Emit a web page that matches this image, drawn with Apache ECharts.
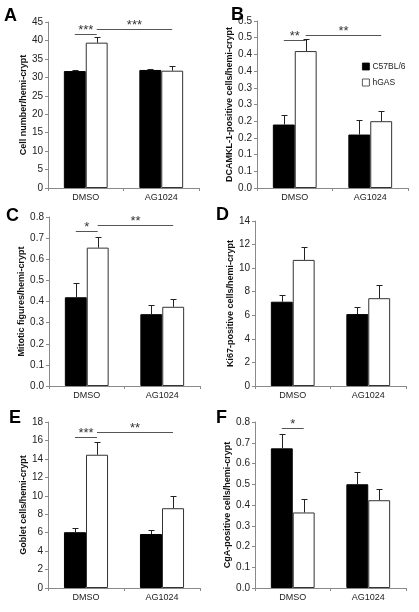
<!DOCTYPE html>
<html><head><meta charset="utf-8">
<script src="https://cdn.jsdelivr.net/npm/echarts@6/dist/echarts.min.js"></script>
<style>html,body{margin:0;padding:0;background:#fff}#c{width:419px;height:612px}</style>
</head><body><div id="c"></div>
<script>
// ---------- data ----------
const categories = ['DMSO', 'AG1024'];
const seriesNames = ['C57BL/6', 'hGAS'];

// Panel A
const aC57 = [31.7, 32.0];
const aHgas = [39.4, 31.8];
const aC57Err = [0.4, 0.3];
const aHgasErr = [1.4, 1.3];
const aTicks = ['0', '5', '10', '15', '20', '25', '30', '35', '40', '45'];
const aBrackets = [[0, 0, 0, 1, 41.8], [0, 1, 1, 1, 43.2]];
const aBracketLabels = ['***', '***'];

// Panel B
const bC57 = [0.19, 0.16];
const bHgas = [0.41, 0.20];
const bC57Err = [0.03, 0.045];
const bHgasErr = [0.035, 0.032];
const bTicks = ['0.0', '0.1', '0.1', '0.2', '0.2', '0.3', '0.3', '0.4', '0.4', '0.5', '0.5'];
const bBrackets = [[0, 0, 0, 1, 0.443], [0, 1, 1, 1, 0.458]];
const bBracketLabels = ['**', '**'];

// Panel C
const cC57 = [0.42, 0.34];
const cHgas = [0.655, 0.375];
const cC57Err = [0.066, 0.044];
const cHgasErr = [0.05, 0.035];
const cTicks = ['0.0', '0.1', '0.2', '0.3', '0.4', '0.5', '0.6', '0.7', '0.8'];
const cBrackets = [[0, 0, 0, 1, 0.732], [0, 1, 1, 1, 0.763]];
const cBracketLabels = ['*', '**'];

// Panel D
const dC57 = [7.15, 6.1];
const dHgas = [10.7, 7.45];
const dC57Err = [0.6, 0.63];
const dHgasErr = [1.1, 1.13];
const dTicks = ['0', '2', '4', '6', '8', '10', '12', '14'];
const dBrackets = [];
const dBracketLabels = [];

// Panel E
const eC57 = [6.05, 5.85];
const eHgas = [14.45, 8.65];
const eC57Err = [0.5, 0.47];
const eHgasErr = [1.38, 1.33];
const eTicks = ['0', '2', '4', '6', '8', '10', '12', '14', '16', '18'];
const eBrackets = [[0, 0, 0, 1, 16.36], [0, 1, 1, 1, 16.87]];
const eBracketLabels = ['***', '**'];

// Panel F
const fC57 = [0.673, 0.50];
const fHgas = [0.364, 0.423];
const fC57Err = [0.068, 0.061];
const fHgasErr = [0.064, 0.052];
const fTicks = ['0.0', '0.1', '0.2', '0.3', '0.4', '0.5', '0.6', '0.7', '0.8'];
const fBrackets = [[0, 0, 0, 1, 0.771]];
const fBracketLabels = ['*'];

// ---------- layout / style ----------
const FONT = 'Liberation Sans';
const GAP = 0.42;
const AXIS_COLOR = '#8a8a8a';
const panels = [
  { letter: 'A', name: 'Cell number/hemi-crypt', c57: aC57, hgas: aHgas, c57e: aC57Err, hgase: aHgasErr, ticks: aTicks, step: 5, br: aBrackets, brl: aBracketLabels,
    grid: { left: 48, top: 22, width: 151, height: 166 }, title: { left: 4, top: 7 }, nameGap: 20 },
  { letter: 'B', name: 'DCAMKL-1-positive cells/hemi-crypt', c57: bC57, hgas: bHgas, c57e: bC57Err, hgase: bHgasErr, ticks: bTicks, step: 0.05, br: bBrackets, brl: bBracketLabels,
    grid: { left: 257, top: 21, width: 151, height: 167 }, title: { left: 231, top: 6 }, nameGap: 21 },
  { letter: 'C', name: 'Mitotic figures/hemi-crypt', c57: cC57, hgas: cHgas, c57e: cC57Err, hgase: cHgasErr, ticks: cTicks, step: 0.1, br: cBrackets, brl: cBracketLabels,
    grid: { left: 49, top: 217, width: 151, height: 169 }, title: { left: 6, top: 207 }, nameGap: 20 },
  { letter: 'D', name: 'Ki67-positive cells/hemi-crypt', c57: dC57, hgas: dHgas, c57e: dC57Err, hgase: dHgasErr, ticks: dTicks, step: 2, br: dBrackets, brl: dBracketLabels,
    grid: { left: 255, top: 221, width: 151, height: 165 }, title: { left: 216, top: 206 }, nameGap: 16 },
  { letter: 'E', name: 'Goblet cells/hemi-crypt', c57: eC57, hgas: eHgas, c57e: eC57Err, hgase: eHgasErr, ticks: eTicks, step: 2, br: eBrackets, brl: eBracketLabels,
    grid: { left: 48, top: 422, width: 152, height: 166 }, title: { left: 9, top: 409 }, nameGap: 19 },
  { letter: 'F', name: 'CgA-positive cells/hemi-crypt', c57: fC57, hgas: fHgas, c57e: fC57Err, hgase: fHgasErr, ticks: fTicks, step: 0.1, br: fBrackets, brl: fBracketLabels,
    grid: { left: 255, top: 422, width: 151, height: 166 }, title: { left: 216, top: 409 }, nameGap: 16 }
];

function barCenterX(api, cat, side) {
  const band = api.size([1, 0])[0];
  const bw = band * (1 - GAP) / 2;
  return api.coord([cat, 0])[0] + (side === 0 ? -bw / 2 : bw / 2);
}

function renderErr(params, api) {
  const cat = api.value(0), v = api.value(1), e = api.value(2), side = api.value(3);
  const x = Math.round(barCenterX(api, cat, side)) + 0.5;
  const y0 = api.coord([cat, v])[1];
  const y1 = Math.round(api.coord([cat, v + e])[1]) + 0.5;
  const st = { stroke: '#222', lineWidth: 1 };
  return { type: 'group', children: [
    { type: 'line', shape: { x1: x, y1: y0, x2: x, y2: y1 }, style: st },
    { type: 'line', shape: { x1: x - 3, y1: y1, x2: x + 3, y2: y1 }, style: st }
  ] };
}

function makeBracketRender(labels) {
  return function (params, api) {
    const x0 = barCenterX(api, api.value(0), api.value(1));
    const x1 = barCenterX(api, api.value(2), api.value(3));
    const py = Math.round(api.coord([0, api.value(4)])[1]) + 0.5;
    return { type: 'group', children: [
      { type: 'line', shape: { x1: x0, y1: py, x2: x1, y2: py }, style: { stroke: '#555', lineWidth: 1 } },
      { type: 'text', style: { text: labels[params.dataIndex], x: (x0 + x1) / 2, y: py - 4, align: 'center', verticalAlign: 'middle',
        font: '13px "' + FONT + '"', fill: '#333' } }
    ] };
  };
}

const option = {
  animation: false,
  backgroundColor: '#fff',
  title: [], grid: [], xAxis: [], yAxis: [], series: [],
  legend: {
    data: seriesNames, orient: 'vertical', left: 362, top: 62, itemWidth: 7, itemHeight: 7, itemGap: 7,
    icon: 'rect', itemStyle: { borderWidth: 0.8 },
    textStyle: { fontFamily: FONT, fontSize: 8.5, color: '#222', padding: [0, 0, 0, -2] }, padding: 0
  }
};

panels.forEach((p, i) => {
  option.title.push({ text: p.letter, left: p.title.left, top: p.title.top, padding: 0,
    textStyle: { fontFamily: FONT, fontSize: 18, fontWeight: 'bold', color: '#000' } });
  option.grid.push(Object.assign({}, p.grid));
  option.xAxis.push({
    type: 'category', gridIndex: i, data: categories,
    axisLine: { lineStyle: { color: AXIS_COLOR, width: 1 } },
    axisTick: { show: true, length: 3, lineStyle: { color: AXIS_COLOR } },
    axisLabel: { fontFamily: FONT, fontSize: 9, color: '#222', margin: 5 }
  });
  const max = p.step * (p.ticks.length - 1);
  option.yAxis.push({
    type: 'value', gridIndex: i, min: 0, max: max, interval: p.step,
    name: p.name, nameLocation: 'middle', nameGap: p.nameGap,
    nameTextStyle: { fontFamily: FONT, fontSize: 9, fontWeight: 'bold', color: '#111' },
    axisLine: { show: true, lineStyle: { color: AXIS_COLOR, width: 1 } },
    axisTick: { show: true, length: 3, lineStyle: { color: AXIS_COLOR } },
    splitLine: { show: false },
    axisLabel: { fontFamily: FONT, fontSize: 10, color: '#222', margin: 5,
      formatter: v => p.ticks[Math.round(v / p.step)] }
  });
  option.series.push({
    name: seriesNames[0], type: 'bar', xAxisIndex: i, yAxisIndex: i, data: p.c57,
    barCategoryGap: (GAP * 100) + '%', barGap: '0%',
    itemStyle: { color: '#000', borderColor: '#000', borderWidth: 1 }
  });
  option.series.push({
    name: seriesNames[1], type: 'bar', xAxisIndex: i, yAxisIndex: i, data: p.hgas,
    barCategoryGap: (GAP * 100) + '%', barGap: '0%',
    itemStyle: { color: '#fff', borderColor: '#333', borderWidth: 1 }
  });
  const errData = [];
  categories.forEach((c, k) => {
    errData.push([k, p.c57[k], p.c57e[k], 0]);
    errData.push([k, p.hgas[k], p.hgase[k], 1]);
  });
  option.series.push({
    type: 'custom', xAxisIndex: i, yAxisIndex: i, data: errData, encode: { x: 0, y: 1 },
    renderItem: renderErr, z: 5, silent: true
  });
  if (p.br.length) {
    option.series.push({
      type: 'custom', xAxisIndex: i, yAxisIndex: i, data: p.br, encode: { x: 0, y: 4 },
      renderItem: makeBracketRender(p.brl), z: 5, silent: true
    });
  }
});

const chart = echarts.init(document.getElementById('c'), null, { renderer: 'canvas' });
chart.setOption(option);
</script>
</body></html>
